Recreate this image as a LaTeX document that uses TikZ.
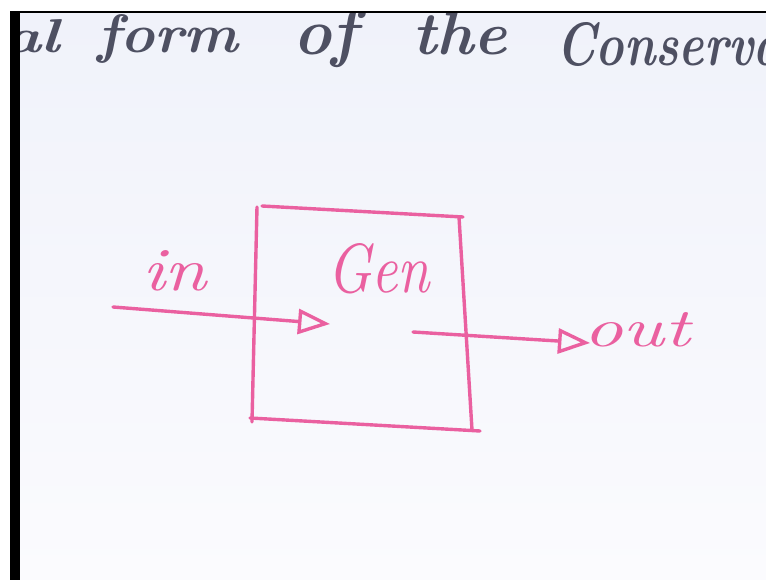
\documentclass[tikz,border=0pt]{standalone}
\usetikzlibrary{arrows.meta}
\definecolor{board}{RGB}{240,242,250}
\definecolor{boardlow}{RGB}{251,251,254}
\definecolor{ink}{RGB}{78,80,98}
\definecolor{marker}{RGB}{234,96,160}
\tikzset{
  pen/.style={draw=marker, line width=3.4pt, line cap=round, line join=round},
  openTip/.style={-{Triangle[open,length=32pt,width=25pt]}},
  word/.style={anchor=base west, inner sep=0pt, outer sep=0pt, text=ink, font=\bfseries\itshape},
  pword/.style={anchor=base west, inner sep=0pt, outer sep=0pt, text=marker, font=\itshape},
}
\begin{document}
\begin{tikzpicture}[x=1pt,y=-1pt]
\useasboundingbox (0,0) rectangle (766,580);
\begin{scope}
\clip (0,0) rectangle (766,580);
% board
\fill[white] (0,0) rectangle (766,580);
\shade[top color=board, bottom color=boardlow] (20,13) rectangle (766,580);
% heading (handwritten)
\node[word] (w1) at (3,53) {\resizebox{57pt}{33pt}{al}};
\node[word] (w2) at (97,53) {\resizebox{141pt}{38pt}{form}};
\node[word] (w3) at (293,55) {\resizebox{64pt}{46pt}{of}};
\node[word] (w4) at (412,55) {\resizebox{95pt}{42pt}{the}};
\node[word] (w5) at (556,66) {\resizebox{226pt}{43pt}{Conserva}};
% frame edges of the board
\fill[white] (0,0) rectangle (766,11);
\fill[white] (0,0) rectangle (10,580);
\fill[black] (10,11) rectangle (766,13);
\fill[black] (10,11) rectangle (20,580);
\end{scope}
% box corners (hand drawn)
\coordinate (lt) at (257,207);
\coordinate (lb) at (252,422);
\coordinate (tl) at (262,206);
\coordinate (tr) at (463,217);
\coordinate (rt) at (459,217);
\coordinate (rb) at (472,430);
\coordinate (bl) at (250,418);
\coordinate (br) at (480,431);
\draw[pen] (lt) -- (lb);
\draw[pen] (tl) -- (tr);
\draw[pen] (rt) -- (rb);
\draw[pen] (bl) -- (br);
% labels
\node[pword] (in) at (142,290) {\resizebox{65pt}{40pt}{in}};
\node[pword] (gen) at (327,292) {\resizebox{103pt}{49pt}{Gen}};
\node[pword] (out) at (583,346) {\resizebox{107pt}{34pt}{out}};
% arrows
\coordinate (inS) at (113,307);
\coordinate (inT) at (330,324);
\coordinate (outS) at (413,332);
\coordinate (outT) at (590,343);
\draw[pen, openTip] (inS) -- (inT);
\draw[pen, openTip] (outS) -- (outT);
\end{tikzpicture}
\end{document}
